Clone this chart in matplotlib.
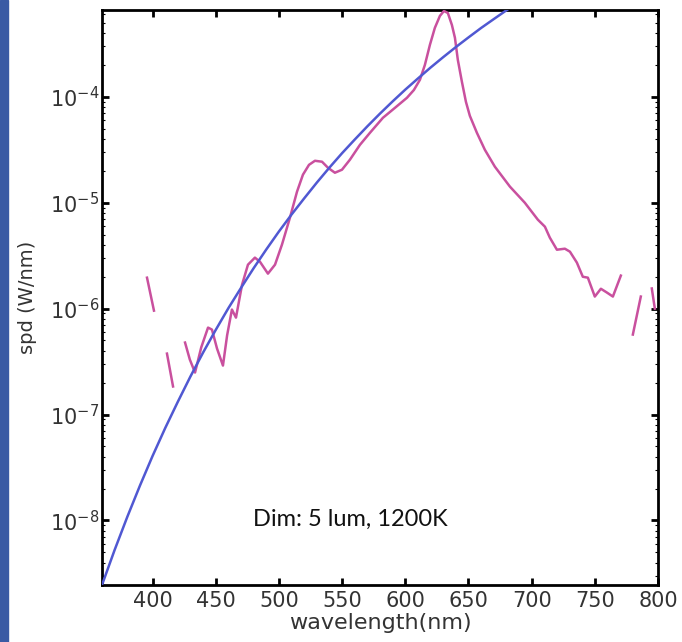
import numpy as np
import matplotlib.pyplot as plt
from matplotlib.patches import Rectangle
from matplotlib.ticker import LogLocator, NullFormatter

# blackbody fit (blue), every 10 nm
bb_wl = [360, 370, 380, 390, 400, 410, 420, 430, 440, 450, 460, 470, 480, 490,
         500, 510, 520, 530, 540, 550, 560, 570, 580, 590, 600, 610, 620, 630,
         640, 650, 660, 670, 680, 690]
bb_spd = [2.46e-9, 5.27e-9, 1.08e-8, 2.13e-8, 4.06e-8, 7.45e-8, 1.32e-7, 2.29e-7,
          3.85e-7, 6.30e-7, 1.01e-6, 1.57e-6, 2.41e-6, 3.62e-6, 5.35e-6, 7.74e-6,
          1.10e-5, 1.55e-5, 2.15e-5, 2.94e-5, 3.95e-5, 5.27e-5, 6.95e-5, 9.06e-5,
          1.17e-4, 1.49e-4, 1.89e-4, 2.37e-4, 2.95e-4, 3.64e-4, 4.47e-4, 5.42e-4,
          6.56e-4, 7.87e-4]

# measured spd (magenta), nan = gap in the trace
meas_wl = [395.6, 401.1, np.nan,
           411.4, 416.2, np.nan,
           425.7, 429.5, 433.6, 438.5, 443.9, 447.0, 451.0, 455.7, 459.0, 462.8,
           466.0, 470.8, 475.5, 481.0, 485.0, 491.3, 496.9, 502.4, 508.7, 514.3,
           519.0, 523.8, 528.5, 534.1, 538.8, 544.3, 549.9, 556.2, 564.1, 572.0,
           582.3, 591.8, 601.3, 606.8, 611.6, 615.5, 619.5, 623.4, 627.4, 630.6,
           633.7, 636.9, 639.3, 641.6, 644.8, 648.0, 651.1, 656.7, 663.0, 670.9,
           682.8, 694.6, 704.9, 710.5, 714.4, 720.0, 726.3, 730.3, 735.8, 740.5,
           744.5, 750.0, 754.8, 759.5, 764.3, 770.6, np.nan,
           780.1, 786.4, np.nan,
           795.1, 797.5]
meas_spd = [1.96e-6, 9.57e-7, np.nan,
            3.76e-7, 1.84e-7, np.nan,
            4.78e-7, 3.3e-7, 2.49e-7, 4.3e-7, 6.62e-7, 6.34e-7, 4.2e-7, 2.90e-7,
            5.6e-7, 9.80e-7, 8.22e-7, 1.68e-6, 2.60e-6, 3.03e-6, 2.77e-6, 2.14e-6,
            2.60e-6, 4.02e-6, 7.21e-6, 1.27e-5, 1.84e-5, 2.28e-5, 2.49e-5, 2.44e-5,
            2.14e-5, 1.92e-5, 2.05e-5, 2.55e-5, 3.52e-5, 4.57e-5, 6.34e-5, 7.87e-5,
            9.79e-5, 1.16e-4, 1.45e-4, 2.00e-4, 3.10e-4, 4.48e-4, 5.81e-4, 6.47e-4,
            6.19e-4, 4.77e-4, 3.61e-4, 2.23e-4, 1.39e-4, 8.97e-5, 6.62e-5, 4.57e-5,
            3.16e-5, 2.19e-5, 1.42e-5, 1.00e-5, 6.92e-6, 5.94e-6, 4.68e-6, 3.60e-6,
            3.68e-6, 3.45e-6, 2.72e-6, 2.00e-6, 1.96e-6, 1.30e-6, 1.54e-6, 1.42e-6,
            1.30e-6, 2.05e-6, np.nan,
            5.69e-7, 1.30e-6, np.nan,
            1.55e-6, 1.0e-6]

x_ticks = [400, 450, 500, 550, 600, 650, 700, 750, 800]

fig = plt.figure(figsize=(6.82, 6.42), dpi=100)
fig.patches.append(Rectangle((0, 0), 8 / 682, 1, transform=fig.transFigure,
                             color="#3a5aa4", zorder=0))

ax = fig.add_axes([0.1496, 0.0888, 0.8152, 0.8956])
ax.plot(meas_wl, meas_spd, color="#c9509e", lw=1.8, zorder=3)
ax.plot(bb_wl, bb_spd, color="#5058d2", lw=1.8, zorder=4)

ax.set_yscale("log")
ax.set_xlim(360, 800)
ax.set_ylim(10 ** -8.61, 10 ** -3.18)
ax.set_xticks(x_ticks)
ax.set_yticks([1e-8, 1e-7, 1e-6, 1e-5, 1e-4])
ax.yaxis.set_minor_locator(LogLocator(base=10, subs=np.arange(2, 10)))
ax.yaxis.set_minor_formatter(NullFormatter())

for s in ax.spines.values():
    s.set_linewidth(2.0)
ax.tick_params(which="both", direction="in", top=True, right=True,
               labelsize=15, labelcolor="#333333")
ax.tick_params(axis="x", pad=4)
ax.tick_params(axis="y", pad=2)
ax.tick_params(which="major", length=5, width=2)
ax.tick_params(which="minor", length=2.5, width=0.8)

ax.set_xlabel("wavelength(nm)", fontsize=16, color="#333333", labelpad=2)
ax.set_ylabel("spd (W/nm)", fontsize=14, color="#333333", labelpad=9)

ax.text(479.5, 1.02e-8, "Dim: 5 lum, 1200K", fontsize=17, family="Lato",
        ha="left", va="center", color="#111111")

fig.savefig("out.png", dpi=100)
